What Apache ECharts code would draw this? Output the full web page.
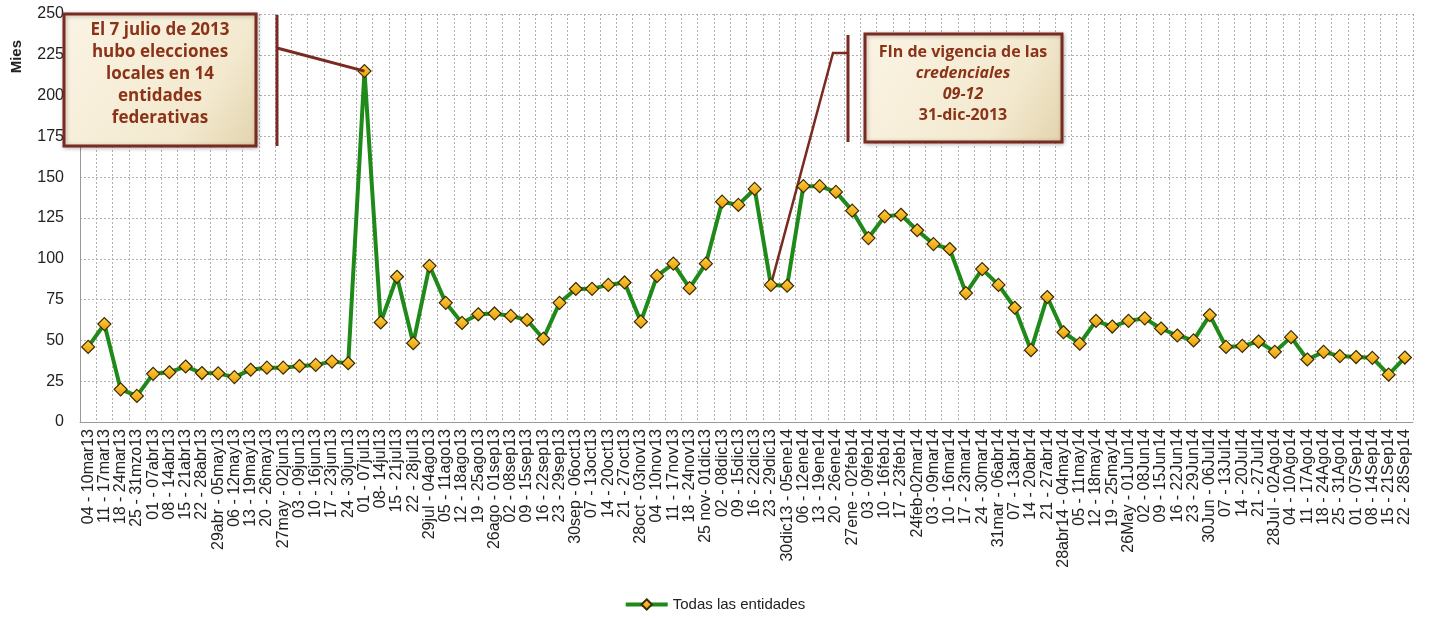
<!DOCTYPE html>
<html>
<head>
<meta charset="utf-8">
<script src="https://cdn.jsdelivr.net/npm/echarts@6/dist/echarts.min.js"></script>
<style>
html,body{margin:0;padding:0;background:#fff;}
#c{width:1429px;height:618px;}
</style>
</head>
<body>
<div id="c"></div>
<script>
const categories = [
"04 - 10mar13","11 - 17mar13","18 - 24mar13","25 - 31mzo13","01 - 07abr13","08 - 14abr13","15 - 21abr13","22 - 28abr13",
"29abr - 05may13","06 - 12may13","13 - 19may13","20 - 26may13","27may - 02jun13","03 - 09jun13","10 - 16jun13","17 - 23jun13",
"24 - 30jun13","01 - 07jul13","08- 14jul13","15 - 21jul13","22 - 28jul13","29jul - 04ago13","05 - 11ago13","12 - 18ago13",
"19 - 25ago13","26ago - 01sep13","02 - 08sep13","09 - 15sep13","16 - 22sep13","23 - 29sep13","30sep - 06oct13","07 - 13oct13",
"14 - 20oct13","21 - 27oct13","28oct - 03nov13","04 - 10nov13","11 - 17nov13","18 - 24nov13","25 nov- 01dic13","02 - 08dic13",
"09 - 15dic13","16 - 22dic13","23 - 29dic13","30dic13 - 05ene14","06 - 12ene14","13 - 19ene14","20 - 26ene14","27ene - 02feb14",
"03 - 09feb14","10 - 16feb14","17 - 23feb14","24feb-02mar14","03 - 09mar14","10 - 16mar14","17 - 23mar14","24 - 30mar14",
"31mar - 06abr14","07 - 13abr14","14 - 20abr14","21 - 27abr14","28abr14 - 04may14","05 - 11may14","12 - 18may14","19 - 25may14",
"26May - 01Jun14","02 - 08Jun14","09 - 15Jun14","16 - 22Jun14","23 - 29Jun14","30Jun - 06Jul14","07 - 13Jul14","14 - 20Jul14",
"21 - 27Jul14","28Jul - 02Ago14","04 - 10Ago14","11 - 17Ago14","18 - 24Ago14","25 - 31Ago14","01 - 07Sep14","08 - 14Sep14",
"15 - 21Sep14","22 - 28Sep14"
];
const values = [
46,60,20,16,29.5,30.5,34,30,29.8,27.5,32,33.3,33.3,34.3,35,37,36,215,61,89,48.3,95.7,73,60.7,
66,66.5,65,62.5,51,73,81.5,81.6,84,85.5,61.5,89.5,97,82,97,135,133,142.8,84,83.5,144.5,144.5,141,129.5,
112.7,126,127,117.5,109,106,79,93.7,84,70,44,76.6,55,48,62,58.5,62,63.5,57.3,53,50,65.5,46,46.6,
49.3,43,52,38.3,43,40.4,39.8,39.3,29,39.5
];
const seriesName = "Todas las entidades";
const yAxisName = "Mies";
const note1Lines = ["El 7 julio de 2013","hubo elecciones","locales en 14","entidades","federativas"];
const note1Index = 17;
const note2Index = 42;

const chart = echarts.init(document.getElementById('c'), null, {renderer:'canvas'});
const txtColor = '#8b3318';
const boxBorder = '#7a2a20';
const boxFill = new echarts.graphic.LinearGradient(0,0,1,1,[{offset:0,color:'#fbf4e4'},{offset:0.7,color:'#f3e9cf'},{offset:1,color:'#e2d3ac'}]);

chart.setOption({
  animation:false,
  grid:{left:80,right:16,top:14,bottom:196,containLabel:false},
  legend:{
    bottom:1,left:'center',
    data:[seriesName],
    itemWidth:42,itemHeight:13,
    lineStyle:{width:4},
    textStyle:{fontFamily:'Liberation Sans',fontSize:15,color:'#222'}
  },
  xAxis:{
    type:'category',
    data:categories,
    boundaryGap:true,
    axisLine:{lineStyle:{color:'#999'}},
    axisTick:{show:false},
    axisLabel:{interval:0,rotate:90,margin:7,fontFamily:'Liberation Sans',fontSize:16,color:'#222'},
    splitLine:{show:true,interval:0,lineStyle:{color:'#b0b0b0',type:[2,2],width:1}}
  },
  yAxis:{
    type:'value',min:0,max:250,interval:25,
    axisLine:{show:true,lineStyle:{color:'#999'}},
    axisTick:{show:false},
    axisLabel:{margin:16,fontFamily:'Liberation Sans',fontSize:16,color:'#222'},
    splitLine:{show:true,lineStyle:{color:'#b0b0b0',type:[2,2],width:1}}
  },
  series:[{
    name:seriesName,
    type:'line',
    data:values,
    symbol:'diamond',
    symbolSize:13,
    lineStyle:{color:'#1f8a1a',width:4},
    itemStyle:{
      color:new echarts.graphic.LinearGradient(0,0,0,1,[{offset:0,color:'#ffd24a'},{offset:1,color:'#e89a00'}]),
      borderColor:'#3a2a00',borderWidth:1.2
    },
    z:3
  }]
});

const p1 = chart.convertToPixel({seriesIndex:0},[note1Index, values[note1Index]]);
const p2 = chart.convertToPixel({seriesIndex:0},[note2Index, values[note2Index]]);

chart.setOption({
  graphic:[
    {type:'text',left:9,top:40,rotation:Math.PI/2,
      style:{text:yAxisName,font:'bold 15px "Liberation Sans"',fill:'#222'}},
    // note 1
    {type:'rect',shape:{x:64,y:14,width:192,height:132},
      style:{fill:boxFill,stroke:boxBorder,lineWidth:3,shadowBlur:4,shadowColor:'rgba(0,0,0,0.25)',shadowOffsetX:1,shadowOffsetY:1},z:10},
    {type:'text',x:160,y:19,z:11,
      style:{text:note1Lines.join('\n'),font:'bold 17px "Open Sans"',fill:txtColor,align:'center',verticalAlign:'top',lineHeight:22}},
    {type:'line',shape:{x1:277,y1:15,x2:277,y2:146},style:{stroke:boxBorder,lineWidth:3},z:10},
    {type:'line',shape:{x1:277,y1:48,x2:p1[0],y2:p1[1]},style:{stroke:boxBorder,lineWidth:3},z:10},
    // note 2
    {type:'rect',shape:{x:865,y:34,width:197,height:108},
      style:{fill:boxFill,stroke:boxBorder,lineWidth:3,shadowBlur:4,shadowColor:'rgba(0,0,0,0.25)',shadowOffsetX:1,shadowOffsetY:1},z:10},
    {type:'text',x:963,y:42,z:11,
      style:{
        text:'{a|FIn de vigencia de las}\n{b|credenciales}\n{b|09-12}\n{a|31-dic-2013}',
        align:'center',verticalAlign:'top',
        rich:{
          a:{font:'bold 16px "Open Sans"',fill:txtColor,lineHeight:21,align:'center'},
          b:{font:'italic bold 16px "Open Sans"',fill:txtColor,lineHeight:21,align:'center'}
        }
      }},
    {type:'line',shape:{x1:848,y1:35,x2:848,y2:142},style:{stroke:boxBorder,lineWidth:3},z:10},
    {type:'polyline',shape:{points:[[848,53],[833,53],[p2[0],p2[1]]]},style:{stroke:boxBorder,lineWidth:2.5,fill:'none'},z:2}
  ]
});
</script>
</body>
</html>
